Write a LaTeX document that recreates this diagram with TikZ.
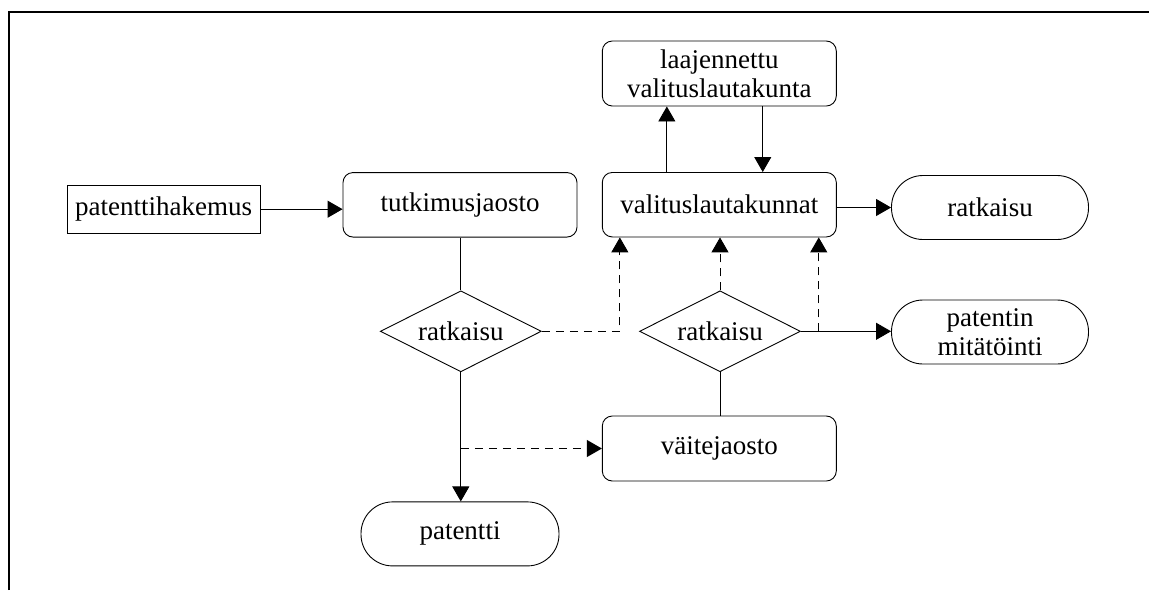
\documentclass[tikz,border=0pt]{standalone}
\usepackage{fontspec}
\setmainfont{Liberation Serif}
\usetikzlibrary{shapes.geometric,arrows.meta,calc}
\begin{document}
\begin{tikzpicture}[x=1pt,y=-1pt,
  every node/.style={font=\fontsize{27}{29}\selectfont, inner sep=0pt, align=center},
  boxnode/.style={draw, line width=0.9pt, rounded corners=10pt, minimum width=234pt, minimum height=64.5pt},
  plainbox/.style={draw, line width=0.8pt, minimum width=193pt, minimum height=48pt},
  termnode/.style={draw, line width=0.9pt, rounded corners=31.5pt, minimum width=197pt, minimum height=64pt},
  decnode/.style={draw, diamond, aspect=2, line width=0.9pt, minimum width=161pt, minimum height=81pt},
  conn/.style={line width=0.9pt},
  arr/.style={conn, -{Triangle[length=15pt,width=17pt]}},
  darr/.style={arr, dash pattern=on 8pt off 6pt},
  dline/.style={conn, dash pattern=on 8pt off 6pt}
]
\useasboundingbox (0,0) rectangle (1149,590);
\draw[line width=1.4pt] (9,590) -- (9,12) -- (1149,12);

\node[plainbox] (ph) at (163.6,209.2) {patenttihakemus};
\node[boxnode] (tj) at (460,204.8) {tutkimusjaosto};
\node[boxnode, minimum height=65pt] (la) at (719.3,73.5) {laajennettu\\valituslautakunta};
\node[boxnode] (vl) at (719.3,204.7) {valituslautakunnat};
\node[termnode] (rt) at (990,207.5) {ratkaisu};
\node[decnode] (d1) at (460.8,331.3) {ratkaisu};
\node[decnode] (d2) at (720,331.3) {ratkaisu};
\node[termnode] (pm) at (990,332) {patentin\\mitätöinti};
\node[boxnode, minimum height=65pt] (vj) at (719.3,448.5) {väitejaosto};
\node[termnode, minimum width=198pt] (pt) at (460,533.9) {patentti};

% solid connectors
\draw[arr] (ph.east) -- (ph.east -| tj.west);
\draw[conn] (tj.south -| d1.north) -- (d1.north);
\draw[arr] (d1.south) -- (d1.south |- pt.north);
\draw[conn] (vj.north -| d2.south) -- (d2.south);
\draw[arr] (d2.east) -- (d2.east -| pm.west);
\draw[arr] (vl.east |- rt.west) -- (rt.west);

\coordinate (upA) at ($(vl.north west)+(65,0)$);
\coordinate (dnB) at ($(la.south east)+(-74,0)$);
\draw[arr] (upA) -- (upA |- la.south);
\draw[arr] (dnB) -- (dnB |- vl.north);

% dashed connectors
\coordinate (vlL) at ($(vl.south west)+(18,0)$);
\coordinate (vlR) at ($(vl.south east)+(-18,0)$);
\coordinate (tapR) at (vlR |- d2.east);
\coordinate (tapD) at (d1.south |- vj.west);
\draw[darr] (d1.east) -| (vlL);
\draw[darr] (d2.north) -- (d2.north |- vl.south);
\draw[darr] (tapR) -- (vlR);
\draw[darr] (tapD) -- (vj.west);
\end{tikzpicture}
\end{document}
